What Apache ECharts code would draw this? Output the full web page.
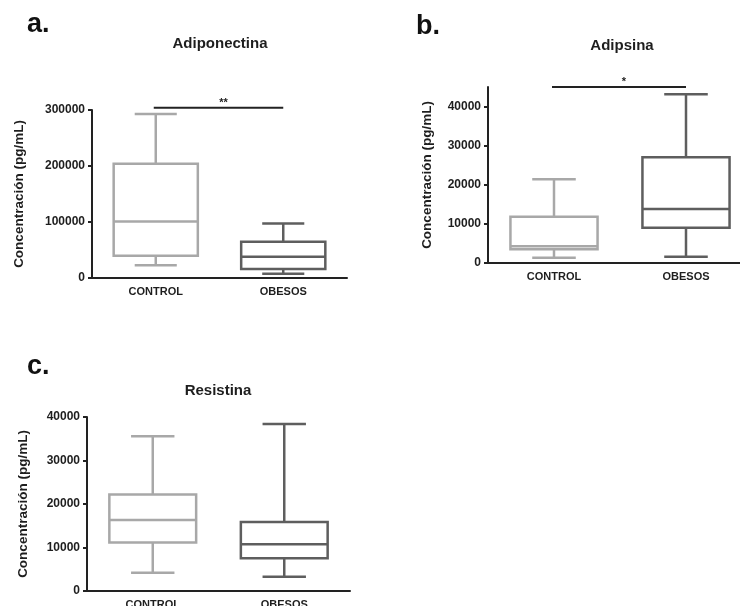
<!DOCTYPE html>
<html>
<head>
<meta charset="utf-8">
<script src="https://cdn.jsdelivr.net/npm/echarts@6/dist/echarts.min.js"></script>
<style>html,body{margin:0;padding:0;background:#fff}#c{width:740px;height:606px}</style>
</head>
<body>
<div id="c"></div>
<script>
// ---- data ----
const categories = ['CONTROL', 'OBESOS'];
// each row: [whisker low, Q1, median, Q3, whisker high]
const adiponectinaControl = [22600, 39800, 101000, 203800, 292900];
const adiponectinaObesos = [7700, 16000, 38000, 64700, 97400];
const adipsinaControl = [1370, 3500, 4300, 11850, 21400];
const adipsinaObesos = [1610, 9030, 13820, 27050, 43150];
const resistinaControl = [4220, 11130, 16350, 22190, 35550];
const resistinaObesos = [3300, 7520, 10750, 15890, 38390];
const titles = ['Adiponectina', 'Adipsina', 'Resistina'];
const panelLetters = ['a.', 'b.', 'c.'];
const yName = 'Concentración (pg/mL)';
const yMax = [300000, 45000, 40000];
const yInterval = [100000, 10000, 10000];
const yTicksB = [0, 10000, 20000, 30000, 40000];
const sigLevelA = 304000, sigMarkA = '**';
const sigLevelB = 45000, sigMarkB = '*';

const FONT = '"Liberation Sans", Arial, sans-serif';
const TXT = '#1e1e1e';
const groupColors = ['#a8a8a8', '#5e5e5e'];

const chart = echarts.init(document.getElementById('c'), null, {renderer: 'canvas'});

const grids = [
  {left: 92, top: 110, width: 255, height: 168, outerBoundsMode: 'none', containLabel: false},
  {left: 488, top: 87, width: 264, height: 176, outerBoundsMode: 'none', containLabel: false},
  {left: 87, top: 417, width: 263, height: 174, outerBoundsMode: 'none', containLabel: false}
];
const nameGaps = [66, 54, 57];

function xAxisCfg(i) {
  return {
    type: 'category', gridIndex: i, data: categories,
    axisLine: {lineStyle: {color: '#222', width: 2}},
    axisTick: {alignWithLabel: true, length: 5, lineStyle: {color: '#222', width: 2}},
    axisLabel: {color: TXT, fontWeight: 'bold', fontSize: 11, fontFamily: FONT, margin: 8},
    splitLine: {show: false}
  };
}
function yAxisCfg(i) {
  const cfg = {
    type: 'value', gridIndex: i, min: 0, max: yMax[i], interval: yInterval[i],
    axisLine: {show: true, lineStyle: {color: '#222', width: 2}},
    axisTick: {show: true, length: 4, lineStyle: {color: '#222', width: 2}},
    axisLabel: {color: TXT, fontWeight: 'bold', fontSize: 12, fontFamily: FONT, margin: 7,
      formatter: v => (v > yTicksB[yTicksB.length - 1] && i === 1) ? '' : String(v)},
    splitLine: {show: false},
    name: yName, nameLocation: 'middle', nameGap: nameGaps[i],
    nameTextStyle: {color: TXT, fontWeight: 'bold', fontSize: 13.5, fontFamily: FONT}
  };
  if (i === 1) {
    cfg.axisTick.customValues = yTicksB;
    cfg.axisLabel.customValues = yTicksB;
  }
  return cfg;
}

function boxRender(params, api) {
  const x = api.value(0);
  const c = groupColors[x];
  const band = api.size([1, 0])[0];
  const hw = band * 0.33, cw = band * 0.165;
  const cx = api.coord([x, 0])[0];
  const y = [1, 2, 3, 4, 5].map(d => api.coord([x, api.value(d)])[1]);
  const ls = {stroke: c, lineWidth: 2.5, fill: null};
  return {
    type: 'group',
    children: [
      {type: 'line', shape: {x1: cx, y1: y[3], x2: cx, y2: y[4]}, style: ls},
      {type: 'line', shape: {x1: cx, y1: y[1], x2: cx, y2: y[0]}, style: ls},
      {type: 'line', shape: {x1: cx - cw, y1: y[4], x2: cx + cw, y2: y[4]}, style: ls},
      {type: 'line', shape: {x1: cx - cw, y1: y[0], x2: cx + cw, y2: y[0]}, style: ls},
      {type: 'rect', shape: {x: cx - hw, y: y[3], width: 2 * hw, height: y[1] - y[3]},
        style: {stroke: c, lineWidth: 2.5, fill: '#fff'}},
      {type: 'line', shape: {x1: cx - hw, y1: y[2], x2: cx + hw, y2: y[2]}, style: ls}
    ]
  };
}
const sigMarks = {};
function sigRender(params, api) {
  const p0 = api.coord([api.value(0), api.value(2)]);
  const p1 = api.coord([api.value(1), api.value(2)]);
  const mark = sigMarks[params.seriesIndex];
  return {
    type: 'group',
    children: [
      {type: 'line', shape: {x1: p0[0] - 2, y1: p0[1], x2: p1[0], y2: p1[1]},
        style: {stroke: '#222', lineWidth: 2}},
      {type: 'text', x: (p0[0] + p1[0]) / 2 + 4, y: p0[1] - 5,
        style: {text: mark, fill: TXT, font: 'bold 11px ' + FONT, textAlign: 'center', textVerticalAlign: 'middle'}}
    ]
  };
}

const groups = [
  [adiponectinaControl, adiponectinaObesos],
  [adipsinaControl, adipsinaObesos],
  [resistinaControl, resistinaObesos]
];
const series = [];
groups.forEach((g, i) => {
  series.push({
    type: 'custom', xAxisIndex: i, yAxisIndex: i, renderItem: boxRender, clip: false,
    encode: {x: 0, y: [1, 2, 3, 4, 5]},
    data: g.map((v, k) => [k].concat(v)), silent: true
  });
});
sigMarks[series.length] = sigMarkA;
series.push({type: 'custom', xAxisIndex: 0, yAxisIndex: 0, renderItem: sigRender, clip: false,
  encode: {x: [0, 1], y: 2}, data: [[0, 1, sigLevelA]], silent: true});
sigMarks[series.length] = sigMarkB;
series.push({type: 'custom', xAxisIndex: 1, yAxisIndex: 1, renderItem: sigRender, clip: false,
  encode: {x: [0, 1], y: 2}, data: [[0, 1, sigLevelB]], silent: true});

const titlePos = [[220, 44], [622, 46], [218, 391]];
const letterPos = [[27, 38], [416, 40], [27, 380]];
const graphic = [];
titles.forEach((t, i) => {
  graphic.push({type: 'text', x: titlePos[i][0], y: titlePos[i][1],
    style: {text: t, fill: TXT, font: 'bold 15px ' + FONT, textAlign: 'center', textVerticalAlign: 'middle'}});
  graphic.push({type: 'text', x: letterPos[i][0], y: letterPos[i][1],
    style: {text: panelLetters[i], fill: '#111', font: 'bold 27px ' + FONT, textAlign: 'left', textVerticalAlign: 'bottom'}});
});

chart.setOption({
  animation: false,
  backgroundColor: '#fff',
  grid: grids,
  xAxis: [0, 1, 2].map(xAxisCfg),
  yAxis: [0, 1, 2].map(yAxisCfg),
  series: series,
  graphic: graphic
});
</script>
</body>
</html>
